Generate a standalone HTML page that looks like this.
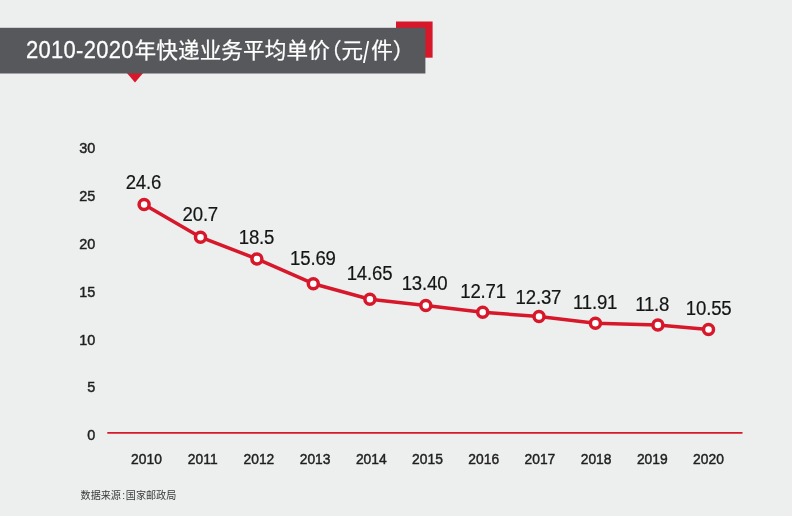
<!DOCTYPE html>
<html lang="zh-CN">
<head>
<meta charset="utf-8">
<title>2010-2020年快递业务平均单价(元/件)</title>
<style>
html,body{margin:0;padding:0;background:#edeeee;}
body{width:792px;height:516px;overflow:hidden;position:relative;font-family:"Liberation Sans","Noto Sans CJK SC",sans-serif;}
svg{position:absolute;left:0;top:0;display:block;}
text{font-family:"Liberation Sans","Noto Sans CJK SC",sans-serif;}
.title{font-size:22px;fill:#ffffff;}
.cjk{font-size:21.6px;stroke:#ffffff;stroke-width:0.25px;}
.ylab{font-size:14.6px;fill:#1f1f1f;text-anchor:end;stroke:#1f1f1f;stroke-width:0.45px;}
.xlab{font-size:14.6px;fill:#1f1f1f;text-anchor:middle;stroke:#1f1f1f;stroke-width:0.45px;}
.val{font-size:20.8px;fill:#151515;text-anchor:middle;letter-spacing:-0.2px;stroke:#151515;stroke-width:0.2px;}
.src{font-size:10.1px;fill:#3a3a3a;}
</style>
</head>
<body>
<svg width="792" height="516" viewBox="0 0 792 516">
  <rect x="0" y="0" width="792" height="516" fill="#edeeee"/>
  <!-- header -->
  <rect x="396" y="21.5" width="36.6" height="36.2" fill="#d6182a"/>
  <polygon points="126,72 144,72 135,82.5" fill="#d6182a"/>
  <rect x="0" y="27.8" width="425.4" height="45.7" fill="#56585b"/>
  <text class="title" transform="translate(25.9,58.3) scale(1,1.075)" x="0" y="0" letter-spacing="0.3" stroke="#ffffff" stroke-width="0.25">2010-2020</text>
  <text class="title cjk" y="58"><tspan x="134.6" letter-spacing="0.1">年快递业务平均单价</tspan><tspan x="320">（</tspan><tspan x="341.5">元</tspan></text>
  <text class="title" transform="translate(363,62.5) scale(1,1.3)" x="0" y="0">/</text>
  <text class="title cjk" y="58"><tspan x="371.2">件</tspan><tspan x="392.7">）</tspan></text>

  <g class="ylab">
    <text transform="translate(95.2,153.3) scale(0.99,1)" x="0" y="0">30</text>
    <text transform="translate(95.2,200.9) scale(0.99,1)" x="0" y="0">25</text>
    <text transform="translate(95.2,249.0) scale(0.99,1)" x="0" y="0">20</text>
    <text transform="translate(95.2,296.7) scale(0.99,1)" x="0" y="0">15</text>
    <text transform="translate(95.2,344.7) scale(0.99,1)" x="0" y="0">10</text>
    <text transform="translate(95.2,392.2) scale(0.99,1)" x="0" y="0">5</text>
    <text transform="translate(95.2,440.1) scale(0.99,1)" x="0" y="0">0</text>
  </g>
  <line x1="107.3" y1="432.9" x2="742.5" y2="432.9" stroke="#d6182a" stroke-width="1.7"/>
  <polyline fill="none" stroke="#d6182a" stroke-width="3.5" stroke-linejoin="round" stroke-linecap="round" points="144.1,204.4 200.5,237.2 256.9,258.9 313.3,283.7 369.9,299.3 425.8,305.5 482.7,312.2 539.0,316.6 595.4,323.3 657.9,324.9 708.5,329.4"/>
  <g fill="#ffffff" stroke="#d6182a" stroke-width="3.5">
    <circle cx="144.1" cy="204.4" r="5"/>
    <circle cx="200.5" cy="237.2" r="5"/>
    <circle cx="256.9" cy="258.9" r="5"/>
    <circle cx="313.3" cy="283.7" r="5"/>
    <circle cx="369.9" cy="299.3" r="5"/>
    <circle cx="425.8" cy="305.5" r="5"/>
    <circle cx="482.7" cy="312.2" r="5"/>
    <circle cx="539.0" cy="316.6" r="5"/>
    <circle cx="595.4" cy="323.3" r="5"/>
    <circle cx="657.9" cy="324.9" r="5"/>
    <circle cx="708.5" cy="329.4" r="5"/>
  </g>
  <g class="val">
    <text transform="translate(143.4,188.5) scale(0.895,1)" x="0" y="0">24.6</text>
    <text transform="translate(200.3,220.6) scale(0.895,1)" x="0" y="0">20.7</text>
    <text transform="translate(256.5,243.5) scale(0.895,1)" x="0" y="0">18.5</text>
    <text transform="translate(312.9,265.2) scale(0.895,1)" x="0" y="0">15.69</text>
    <text transform="translate(369.5,280.0) scale(0.895,1)" x="0" y="0">14.65</text>
    <text transform="translate(424.5,290.2) scale(0.895,1)" x="0" y="0">13.40</text>
    <text transform="translate(483.1,297.8) scale(0.895,1)" x="0" y="0">12.71</text>
    <text transform="translate(538.4,303.5) scale(0.895,1)" x="0" y="0">12.37</text>
    <text transform="translate(595.1,309.1) scale(0.895,1)" x="0" y="0">11.91</text>
    <text transform="translate(652.2,311.4) scale(0.895,1)" x="0" y="0">11.8</text>
    <text transform="translate(708.7,315.2) scale(0.895,1)" x="0" y="0">10.55</text>
  </g>
  <g class="xlab">
    <text transform="translate(146.5,464.4) scale(0.95,1)" x="0" y="0">2010</text>
    <text transform="translate(202.7,464.4) scale(0.95,1)" x="0" y="0">2011</text>
    <text transform="translate(258.9,464.4) scale(0.95,1)" x="0" y="0">2012</text>
    <text transform="translate(315.1,464.4) scale(0.95,1)" x="0" y="0">2013</text>
    <text transform="translate(371.3,464.4) scale(0.95,1)" x="0" y="0">2014</text>
    <text transform="translate(427.5,464.4) scale(0.95,1)" x="0" y="0">2015</text>
    <text transform="translate(483.7,464.4) scale(0.95,1)" x="0" y="0">2016</text>
    <text transform="translate(539.9,464.4) scale(0.95,1)" x="0" y="0">2017</text>
    <text transform="translate(596.1,464.4) scale(0.95,1)" x="0" y="0">2018</text>
    <text transform="translate(652.3,464.4) scale(0.95,1)" x="0" y="0">2019</text>
    <text transform="translate(708.5,464.4) scale(0.95,1)" x="0" y="0">2020</text>
  </g>
  <text class="src" y="499.2"><tspan x="80.6">数据来源</tspan><tspan x="122.2">:</tspan><tspan x="125.8">国家邮政局</tspan></text>
</svg>
</body>
</html>
